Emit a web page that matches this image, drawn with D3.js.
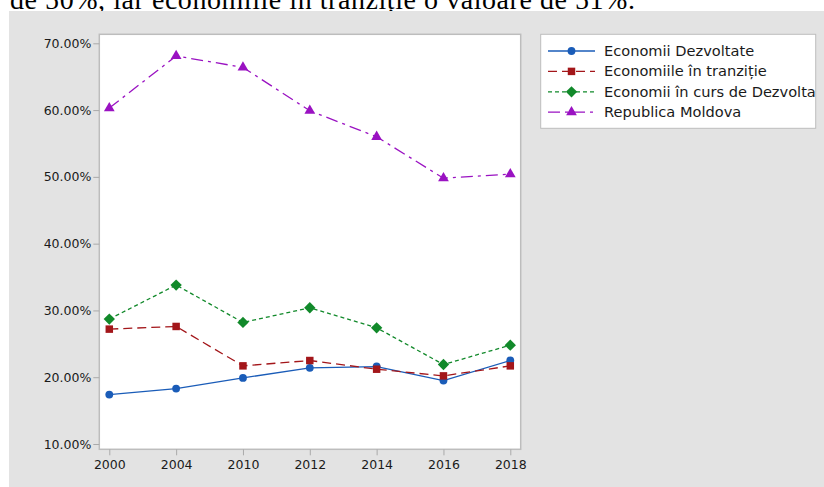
<!DOCTYPE html>
<html>
<head>
<meta charset="utf-8">
<script src="https://cdn.jsdelivr.net/npm/d3@7/dist/d3.min.js"></script>
<style>
  body { margin: 0; background: #fff; }
  svg { display: block; }
  .tick text { font-family: "DejaVu Sans", sans-serif; font-size: 12.5px; fill: #1a1a1a; }
</style>
</head>
<body>
<svg id="chart" width="824" height="487"></svg>
<script>
// Years on the x axis
const years = ["2000", "2004", "2010", "2012", "2014", "2016", "2018"]

// Series values, in percent
const dezvoltate = [17.4, 18.3, 19.9, 21.4, 21.6, 19.5, 22.5]
const tranzitie = [27.2, 27.6, 21.7, 22.5, 21.2, 20.2, 21.7]
const inCurs = [28.7, 33.8, 28.2, 30.4, 27.4, 21.9, 24.8]
const moldova = [60.3, 68.1, 66.4, 59.9, 56.0, 49.8, 50.4]

const yTicks = [10, 20, 30, 40, 50, 60, 70]

const seriesNames = [
  "Economii Dezvoltate",
  "Economiile în tranziție",
  "Economii în curs de Dezvoltare",
  "Republica Moldova"
]

// Diamond drawn as a square turned by 45 degrees (wider than d3.symbolDiamond)
const wideDiamond = {
  draw(ctx, size) {
    const r = Math.sqrt(size / 2)
    ctx.moveTo(0, -r); ctx.lineTo(r, 0); ctx.lineTo(0, r); ctx.lineTo(-r, 0); ctx.closePath()
  }
}

// Build the series table from the arrays above
const series = [
  { name: seriesNames[0], values: dezvoltate, color: "#1a5cb8", dash: null, symbol: d3.symbolCircle, size: 48 },
  { name: seriesNames[1], values: tranzitie, color: "#a3161a", dash: "9,5", symbol: d3.symbolSquare, size: 56 },
  { name: seriesNames[2], values: inCurs, color: "#11892a", dash: "4,3", symbol: wideDiamond, size: 64 },
  { name: seriesNames[3], values: moldova, color: "#9a12c2", dash: "12,5,3,5", symbol: d3.symbolTriangle, size: 50 }
]

const svg = d3.select("#chart")

// Sentence from the page above the chart, cut off by the crop
svg.append("text")
  .attr("x", 10).attr("y", 9)
  .attr("font-family", "'Liberation Serif', 'Times New Roman', serif")
  .attr("font-size", 28)
  .attr("textLength", 625)
  .attr("fill", "#000")
  .text("de 50%, iar economiile în tranziție o valoare de 51%.")

// Grey chart background
svg.append("rect")
  .attr("x", 9).attr("y", 11).attr("width", 815).attr("height", 476)
  .attr("fill", "#e3e3e3")

// Plot frame
const plot = { left: 99.3, top: 34.3, right: 520.7, bottom: 449.3 }
svg.append("rect")
  .attr("x", plot.left).attr("y", plot.top)
  .attr("width", plot.right - plot.left).attr("height", plot.bottom - plot.top)
  .attr("fill", "#fff").attr("stroke", "#bdbdbd").attr("stroke-width", 1.5)

const x = d3.scalePoint().domain(years).range([109.3, 510.3])
const y = d3.scaleLinear().domain([10, 70]).range([444, 43.3])

// Axes
const yAxis = svg.append("g")
  .attr("transform", `translate(${plot.left},0)`)
  .call(d3.axisLeft(y).tickValues(yTicks).tickSize(6).tickPadding(2).tickFormat(d => d.toFixed(2) + "%"))
yAxis.select(".domain").remove()
yAxis.selectAll(".tick line").attr("stroke", "#aaa")

const xAxis = svg.append("g")
  .attr("transform", `translate(0,${plot.bottom})`)
  .call(d3.axisBottom(x).tickSize(6).tickPadding(5))
xAxis.select(".domain").remove()
xAxis.selectAll(".tick line").attr("stroke", "#aaa")

// Lines and markers
const line = d3.line()
  .x((d, i) => x(years[i]))
  .y(d => y(d))

const groups = svg.append("g").selectAll("g")
  .data(series)
  .enter()
  .append("g")

groups.append("path")
  .attr("d", d => line(d.values))
  .attr("fill", "none")
  .attr("stroke", d => d.color)
  .attr("stroke-width", 1.3)
  .attr("stroke-dasharray", d => d.dash)

groups.each(function (s) {
  d3.select(this).selectAll("path.marker")
    .data(s.values)
    .enter()
    .append("path")
    .attr("class", "marker")
    .attr("d", d3.symbol().type(s.symbol).size(s.size))
    .attr("transform", (d, i) => `translate(${x(years[i])},${y(d)})`)
    .attr("fill", s.color)
})

// Legend
const legend = svg.append("g")
svg.append("clipPath").attr("id", "legclip")
  .append("rect").attr("x", 541).attr("y", 34).attr("width", 274).attr("height", 94)

legend.append("rect")
  .attr("x", 540.7).attr("y", 34.3).attr("width", 275).attr("height", 94)
  .attr("fill", "#fff").attr("stroke", "#bdbdbd").attr("stroke-width", 1)

const items = legend.append("g").attr("clip-path", "url(#legclip)")
  .selectAll("g")
  .data(series)
  .enter()
  .append("g")
  .attr("transform", (d, i) => `translate(0,${51 + i * 20.4})`)

items.append("line")
  .attr("x1", 548).attr("x2", 595)
  .attr("stroke", d => d.color)
  .attr("stroke-width", 1.3)
  .attr("stroke-dasharray", d => d.dash)

items.append("path")
  .attr("d", d => d3.symbol().type(d.symbol).size(d.size)())
  .attr("transform", "translate(571.5,0)")
  .attr("fill", d => d.color)

items.append("text")
  .attr("x", 604).attr("y", 5)
  .attr("font-family", "'DejaVu Sans', sans-serif")
  .attr("font-size", 14.6)
  .attr("fill", "#1a1a1a")
  .text(d => d.name)
</script>
</body>
</html>
